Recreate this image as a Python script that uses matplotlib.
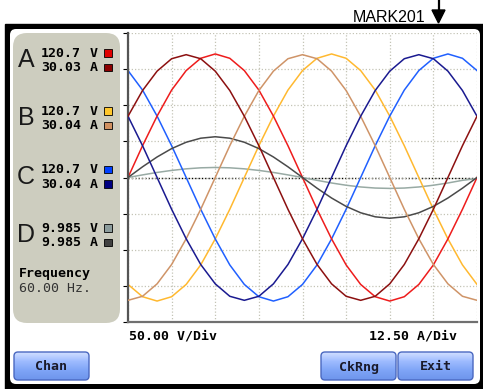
import matplotlib.pyplot as plt
from matplotlib.patches import FancyBboxPatch, Rectangle, Polygon
from matplotlib.colors import LinearSegmentedColormap
import numpy as np

W, H = 483, 389

# one cycle of the waveform, sampled every 15 degrees
angle_deg = list(range(0, 361, 15))

# voltages (V)
volts_a = [0, 44, 85, 121, 148, 165, 171, 165, 148, 121, 85, 44, 0,
           -44, -85, -121, -148, -165, -171, -165, -148, -121, -85, -44, 0]
volts_b = [-148, -165, -171, -165, -148, -121, -85, -44, 0, 44, 85, 121, 148,
           165, 171, 165, 148, 121, 85, 44, 0, -44, -85, -121, -148]
volts_c = [148, 121, 85, 44, 0, -44, -85, -121, -148, -165, -171, -165, -148,
           -121, -85, -44, 0, 44, 85, 121, 148, 165, 171, 165, 148]
volts_d = [0, 3.6, 7.0, 9.8, 12.0, 13.4, 13.9, 13.4, 12.0, 9.8, 7.0, 3.6, 0,
           -3.9, -7.6, -10.7, -13.1, -14.6, -15.1, -14.6, -13.1, -10.7, -7.6, -3.9, -1.5]

# currents (A)
amps_a = [21.2, 30.1, 36.8, 41.1, 42.5, 41.1, 36.8, 30.1, 21.2, 11.0, 0, -11.0, -21.2,
          -30.1, -36.8, -41.1, -42.5, -41.1, -36.8, -30.1, -21.2, -11.0, 0, 11.0, 21.2]
amps_b = [-42.5, -41.1, -36.8, -30.1, -21.2, -11.0, 0, 11.0, 21.2, 30.1, 36.8, 41.1, 42.5,
          41.1, 36.8, 30.1, 21.2, 11.0, 0, -11.0, -21.2, -30.1, -36.8, -41.1, -42.5]
amps_c = [21.2, 11.0, 0, -11.0, -21.2, -30.1, -36.8, -41.1, -42.5, -41.1, -36.8, -30.1, -21.2,
          -11.0, 0, 11.0, 21.2, 30.1, 36.8, 41.1, 42.5, 41.1, 36.8, 30.1, 21.2]
amps_d = [0, 3.7, 7.1, 10.0, 12.2, 13.6, 14.1, 13.6, 12.2, 10.0, 7.1, 3.7, 0,
          -3.7, -7.1, -10.0, -12.2, -13.6, -14.1, -13.6, -12.2, -10.0, -7.1, -3.7, 0]

# readout panel
channels = ['A', 'B', 'C', 'D']
volt_rms = ['120.7', '120.7', '120.7', '9.985']
amp_rms = ['30.03', '30.04', '30.04', '9.985']
volt_colors = ['#ee1c1c', '#ffb930', '#2060ff', '#98aaa4']
amp_colors = ['#8c1010', '#cf9468', '#1a1a90', '#4a4a4a']
box_volt = ['#e00000', '#ffc72c', '#0040ff', '#8c9c9c']
box_amp = ['#8b0000', '#d09060', '#000080', '#404040']
buttons = [('Chan', 14), ('CkRng', 321), ('Exit', 398)]

mono = 'DejaVu Sans Mono'

fig = plt.figure(figsize=(W / 100, H / 100), dpi=100)

# background layer in pixel coordinates
bg = fig.add_axes([0, 0, 1, 1])
bg.set_xlim(0, W)
bg.set_ylim(H, 0)
bg.axis('off')

bg.add_patch(Rectangle((5, 24), W - 5, H - 24, color='black'))
bg.add_patch(FancyBboxPatch((10, 29), 470, 355, boxstyle='round,pad=0,rounding_size=6',
                            facecolor='white', edgecolor='none'))
bg.add_patch(FancyBboxPatch((13, 33), 107, 290, boxstyle='round,pad=0,rounding_size=14',
                            facecolor='#cdcdbf', edgecolor='none'))

# marker label and arrow
bg.text(425, 17, 'MARK201', family='Liberation Sans', fontsize=11.5, ha='right', va='center')
bg.plot([438.5, 438.5], [0, 11], color='black', lw=1.6)
bg.add_patch(Polygon([[432, 10], [445, 10], [438.5, 23]], closed=True, color='black'))

rows_y = [53, 111, 169.5, 228]
for i, ch in enumerate(channels):
    y = rows_y[i]
    bg.text(26, y + 7, ch, family='Liberation Sans', fontsize=18, ha='center', va='center',
            color='#1a1a1a')
    bg.text(41, y, volt_rms[i], family=mono, fontweight='bold', fontsize=9.5, va='center')
    bg.text(41, y + 14.5, amp_rms[i], family=mono, fontweight='bold', fontsize=9.5, va='center')
    bg.text(90, y, 'V', family=mono, fontweight='bold', fontsize=9.5, va='center')
    bg.text(90, y + 14.5, 'A', family=mono, fontweight='bold', fontsize=9.5, va='center')
    bg.add_patch(Rectangle((104, y - 4), 7.5, 7.5, facecolor=box_volt[i], edgecolor='black', lw=0.6))
    bg.add_patch(Rectangle((104, y + 10.5), 7.5, 7.5, facecolor=box_amp[i], edgecolor='black', lw=0.6))

bg.text(19, 274, 'Frequency', family=mono, fontweight='bold', fontsize=9.5, va='center')
bg.text(19, 289, '60.00 Hz.', family=mono, fontsize=9.5, va='center', color='#333333')

bg.text(129, 336, '50.00 V/Div', family=mono, fontweight='bold', fontsize=9.5, va='center')
bg.text(457, 336, '12.50 A/Div', family=mono, fontweight='bold', fontsize=9.5, va='center', ha='right')

# buttons with a blue gradient
cmap = LinearSegmentedColormap.from_list('btn', ['#d2e0ff', '#9dbbff', '#7ea4f6', '#6e95ec'])
grad = np.linspace(0, 1, 64).reshape(-1, 1)
for label, x0 in buttons:
    patch = FancyBboxPatch((x0, 352), 75, 28, boxstyle='round,pad=0,rounding_size=4',
                           facecolor='none', edgecolor='#4a68c0', lw=1.0, zorder=3)
    bg.add_patch(patch)
    im = bg.imshow(grad, extent=(x0, x0 + 75, 380, 352), cmap=cmap, aspect='auto', zorder=2)
    im.set_clip_path(patch)
    bg.text(x0 + 37.5, 367, label, family=mono, fontweight='bold', fontsize=9.5,
            ha='center', va='center', color='#1a1a2a', zorder=4)
bg.set_xlim(0, W)
bg.set_ylim(H, 0)

# waveform area
rect = [128 / W, 1 - 322 / H, (477 - 128) / W, (322 - 33) / H]
ax = fig.add_axes(rect)
ax.set_facecolor('none')
ax.set_xlim(0, 360)
ax.set_ylim(-200, 200)
ax.set_xticks(np.arange(0, 361, 45))
ax.set_yticks(np.arange(-200, 201, 50))
ax.tick_params(left=False, bottom=False, labelleft=False, labelbottom=False)
ax.grid(True, color='#c4c4b6', lw=0.9, linestyle=(0, (1, 1.6)))
for s in ['top', 'right']:
    ax.spines[s].set_visible(False)
ax.spines['left'].set_color('#555555')
ax.spines['left'].set_linewidth(1.6)
ax.spines['bottom'].set_color('#707070')
ax.spines['bottom'].set_linewidth(1.6)
ax.axhline(0, color='black', lw=1.0, linestyle=(0, (1, 1.4)), zorder=1)

ax2 = ax.twinx()
ax2.set_ylim(-50, 50)
ax2.axis('off')

lw = 1.1
ax.plot(angle_deg, volts_d, color=volt_colors[3], lw=lw, zorder=2)
ax2.plot(angle_deg, amps_d, color=amp_colors[3], lw=lw)
ax2.plot(angle_deg, amps_b, color=amp_colors[1], lw=lw)
ax.plot(angle_deg, volts_b, color=volt_colors[1], lw=lw, zorder=2)
ax2.plot(angle_deg, amps_c, color=amp_colors[2], lw=lw)
ax.plot(angle_deg, volts_c, color=volt_colors[2], lw=lw, zorder=2)
ax2.plot(angle_deg, amps_a, color=amp_colors[0], lw=lw)
ax.plot(angle_deg, volts_a, color=volt_colors[0], lw=lw, zorder=2)

fig.savefig('out.png', dpi=100)
